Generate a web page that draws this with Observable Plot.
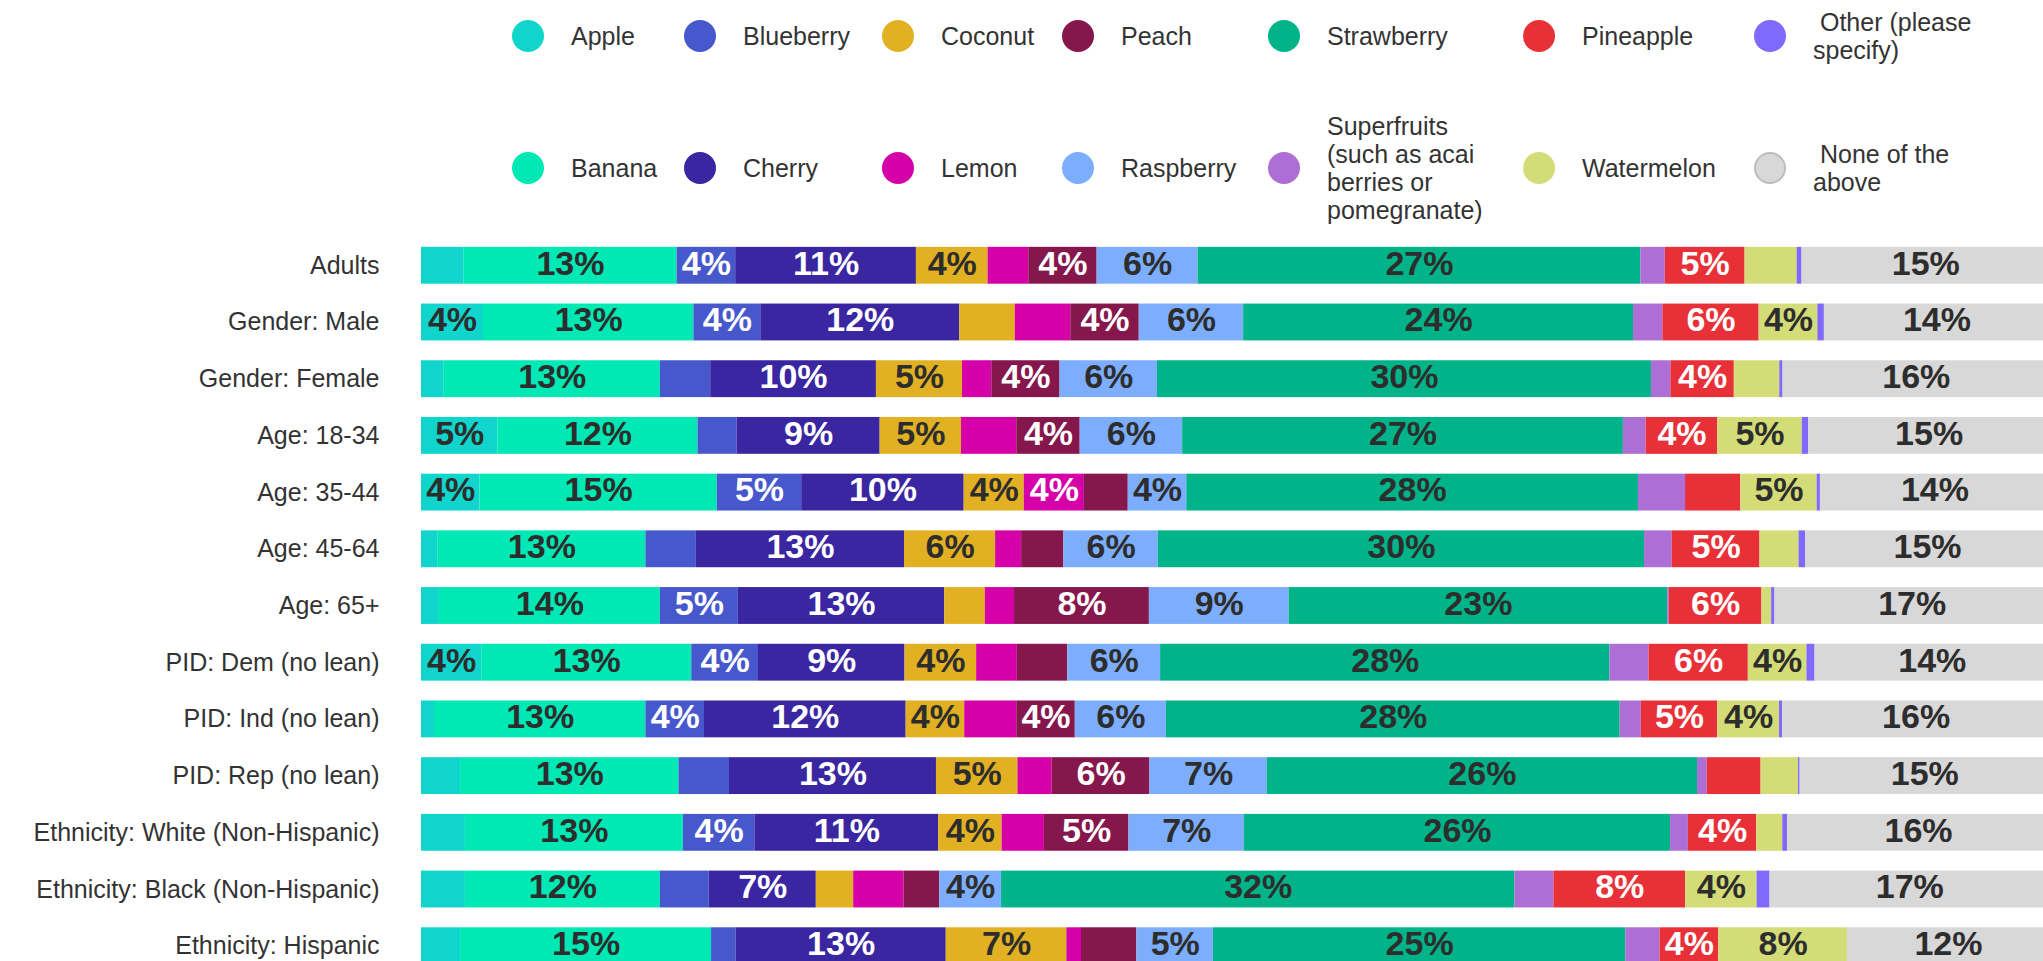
<!DOCTYPE html>
<html>
<head>
<meta charset="utf-8">
<script src="https://cdn.jsdelivr.net/npm/d3@7"></script>
<script src="https://cdn.jsdelivr.net/npm/@observablehq/plot@0.6"></script>
<style>
  html, body { margin: 0; padding: 0; background: #fff; overflow: hidden; }
  body { font-family: "Liberation Sans", Arial, sans-serif; color: #333; width: 2043px; height: 961px; }
  #legend { position: relative; width: 2043px; height: 200px; }
  .item { position: absolute; display: flex; align-items: center; transform: translateY(-50%); }
  .dot { width: 32px; height: 32px; border-radius: 50%; flex: none; box-sizing: border-box; }
  .lab { margin-left: 27px; max-width: 170px; font-size: 25px; line-height: 28px; color: #333; white-space: pre-wrap; }
  #chart { width: 2060px; }
  #chart svg { display: block; max-width: none !important; }
</style>
</head>
<body>
<div id="legend"></div>
<div id="chart"></div>
<script>
const groups = ["Adults", "Gender: Male", "Gender: Female", "Age: 18-34", "Age: 35-44", "Age: 45-64", "Age: 65+",
  "PID: Dem (no lean)", "PID: Ind (no lean)", "PID: Rep (no lean)",
  "Ethnicity: White (Non-Hispanic)", "Ethnicity: Black (Non-Hispanic)", "Ethnicity: Hispanic"];

const fruits = ["Apple", "Banana", "Blueberry", "Cherry", "Coconut", "Lemon", "Peach", "Raspberry", "Strawberry",
  "Superfruits (such as acai berries or pomegranate)", "Pineapple", "Watermelon", "Other (please specify)", "None of the above"];

const legendText = ["Apple", "Banana", "Blueberry", "Cherry", "Coconut", "Lemon", "Peach", "Raspberry", "Strawberry",
  "Superfruits (such as acai berries or pomegranate)", "Pineapple", "Watermelon", " Other (please specify)", " None of the above"];

const colors = ["#10d5cc", "#00e8b4", "#4658cc", "#3a26a0", "#e1b023", "#d500a8", "#85174d", "#7daefe", "#00b389",
  "#ad6fd6", "#e83038", "#d4dc78", "#7f6afd", "#d8d8d8"];

// values (%) per fruit, in the order of groups
const apple       = [2.6, 3.8, 1.4, 4.7, 3.6, 1.0, 1.1, 3.7, 0.8, 2.4, 2.7, 2.7, 2.4];
const banana      = [13.1, 12.9, 13.3, 12.3, 14.6, 12.8, 13.6, 12.9, 13.0, 13.4, 13.4, 12.0, 15.4];
const blueberry   = [3.6, 4.1, 3.1, 2.4, 5.2, 3.1, 4.8, 4.1, 3.6, 3.1, 4.4, 3.0, 1.5];
const cherry      = [11.1, 12.2, 10.2, 8.8, 10.0, 12.8, 12.7, 9.0, 12.4, 12.7, 11.3, 6.6, 12.9];
const coconut     = [4.4, 3.4, 5.3, 5.0, 3.7, 5.6, 2.5, 4.4, 3.6, 5.0, 3.9, 2.3, 7.4];
const lemon       = [2.5, 3.4, 1.8, 3.4, 3.7, 1.6, 1.8, 2.5, 3.2, 2.1, 2.6, 3.1, 0.9];
const peach       = [4.2, 4.2, 4.2, 3.9, 2.7, 2.6, 8.3, 3.1, 3.6, 6.0, 5.2, 2.2, 3.4];
const raspberry   = [6.2, 6.4, 6.0, 6.3, 3.6, 5.8, 8.6, 5.7, 5.6, 7.2, 7.1, 3.8, 4.7];
const strawberry  = [27.2, 23.9, 30.4, 27.1, 27.8, 29.9, 23.3, 27.6, 27.9, 26.4, 26.2, 31.6, 25.3];
const superfruits = [1.5, 1.8, 1.2, 1.4, 2.9, 1.7, 0.1, 2.4, 1.3, 0.6, 1.1, 2.4, 2.1];
const pineapple   = [4.9, 5.9, 3.9, 4.4, 3.4, 5.4, 5.7, 6.1, 4.7, 3.3, 4.2, 8.1, 3.6];
const watermelon  = [3.2, 3.6, 2.8, 5.2, 4.7, 2.4, 0.6, 3.6, 3.8, 2.3, 1.6, 4.4, 7.9];
const other       = [0.3, 0.4, 0.2, 0.4, 0.2, 0.4, 0.2, 0.5, 0.2, 0.1, 0.3, 0.8, 0.0];
const noneAbove   = [15.2, 13.8, 16.4, 14.8, 14.1, 15.0, 16.9, 14.4, 16.4, 15.3, 16.1, 17.2, 12.4];

const series = [apple, banana, blueberry, cherry, coconut, lemon, peach, raspberry, strawberry,
  superfruits, pineapple, watermelon, other, noneAbove];

const whiteText = new Set(["Blueberry", "Cherry", "Lemon", "Peach", "Pineapple"]);

const data = groups.flatMap((g, i) => fruits.map((f, j) => ({group: g, fruit: f, value: series[j][i]})));

// Legend (HTML), column-major in two rows
const colX = [528, 700, 898, 1078, 1284, 1539, 1770];
const rowY = [36, 168];
const legend = document.getElementById("legend");
fruits.forEach((f, k) => {
  const it = document.createElement("div");
  it.className = "item";
  it.style.left = (colX[Math.floor(k / 2)] - 16) + "px";
  it.style.top = rowY[k % 2] + "px";
  const dot = document.createElement("span");
  dot.className = "dot";
  dot.style.background = colors[k];
  if (f === "None of the above") dot.style.border = "2px solid #bdbdbd";
  const lab = document.createElement("span");
  lab.className = "lab";
  lab.textContent = legendText[k];
  it.appendChild(dot);
  it.appendChild(lab);
  legend.appendChild(it);
});

const pct = d => d.value >= 3.5 ? Math.round(d.value) + "%" : "";
const darkText = d => whiteText.has(d.fruit) ? "" : pct(d);
const lightText = d => whiteText.has(d.fruit) ? pct(d) : "";
const stackOpts = {offset: "normalize", x: "value", y: "group", z: "fruit", order: fruits};

const chart = Plot.plot({
  width: 2050,
  height: 784,
  marginLeft: 421,
  marginRight: 1,
  marginTop: 27,
  marginBottom: 0,
  style: {fontFamily: "'Liberation Sans', Arial, sans-serif", color: "#333", background: "white", overflow: "visible", maxWidth: "none"},
  x: {axis: null},
  y: {domain: groups, padding: 0.35, round: false, label: null, axis: null},
  color: {domain: fruits, range: colors},
  marks: [
    Plot.barX(data, Plot.stackX({...stackOpts, fill: "fruit"})),
    Plot.text(data, Plot.stackX({...stackOpts, text: darkText,
      fill: "#2d2d2d", fontSize: 34, fontWeight: "bold", dy: -2})),
    Plot.text(data, Plot.stackX({...stackOpts, text: lightText,
      fill: "white", fontSize: 34, fontWeight: "bold", dy: -2})),
    Plot.axisY({domain: groups, tickSize: 0, tickPadding: 42, fontSize: 25, label: null})
  ]
});
document.getElementById("chart").appendChild(chart);
</script>
</body>
</html>
